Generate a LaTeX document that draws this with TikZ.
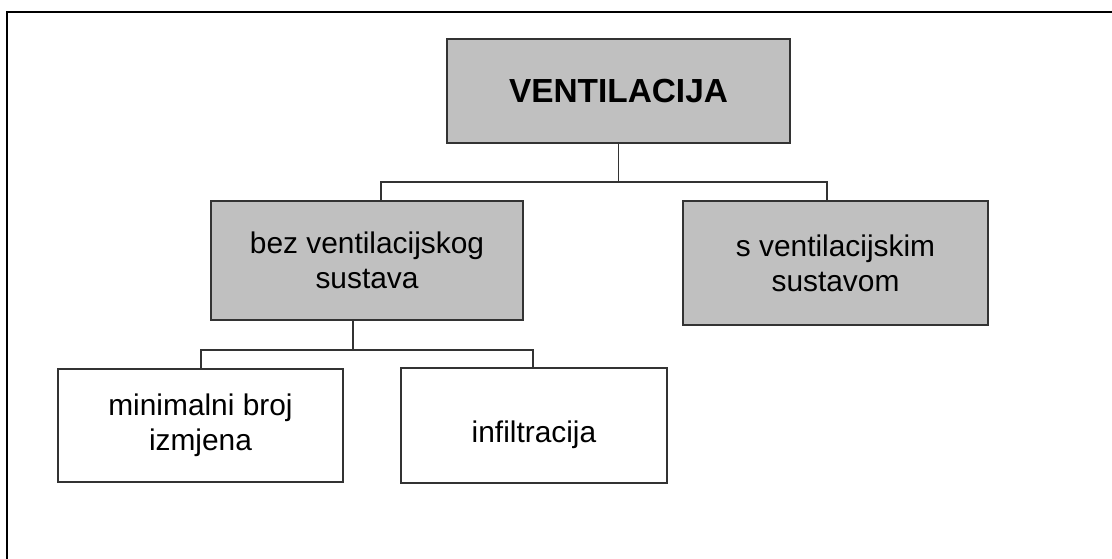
\documentclass[tikz,border=0pt]{standalone}
\usepackage{fontspec}
\setmainfont{Liberation Sans}
\definecolor{boxgrey}{HTML}{C0C0C0}
\definecolor{boxline}{HTML}{333333}

\tikzstyle{box}=[draw=boxline,line width=1.1pt,align=center,inner sep=0pt,font=\fontsize{17}{20}\selectfont]
\tikzstyle{greybox}=[box,fill=boxgrey]
\tikzstyle{whitebox}=[box,fill=white]
\tikzstyle{edge} = [draw=boxline,line width=1.1pt,-]

\begin{document}
\begin{tikzpicture}
		\useasboundingbox (0,0) rectangle (22.24,-11.18);
		\draw [line width=1.4pt] (22.24,-0.24) -- (0.14,-0.24) -- (0.14,-11.18);

		\node [greybox, minimum width=6.86cm, minimum height=2.08cm, font=\fontsize{19}{22}\selectfont\bfseries]
		                  (vent)    at (12.37,-1.82) {VENTILACIJA};
		\node [greybox, minimum width=6.24cm, minimum height=2.38cm]
		                  (bez)     at (7.34,-5.21)  {bez ventilacijskog\\sustava};
		\node [greybox, minimum width=6.10cm, minimum height=2.48cm]
		                  (sa)      at (16.71,-5.26) {s ventilacijskim\\sustavom};
		\node [whitebox, minimum width=5.70cm, minimum height=2.26cm]
		                  (minbroj) at (4.01,-8.51)  {minimalni broj\\izmjena};
		\node [whitebox, minimum width=5.32cm, minimum height=2.30cm, text height=0.81cm, text depth=0.13cm]
		                  (infil)   at (10.68,-8.51) {infiltracija};

		\coordinate (bus1)   at (12.37,-3.64);
		\coordinate (bezin)  at (7.62,-4.02);
		\coordinate (sain)   at (16.54,-4.02);
		\coordinate (bezout) at (7.06,-6.40);
		\coordinate (bus2)   at (7.06,-7.00);
		\coordinate (minin)  at (4.02,-7.38);
		\coordinate (infin)  at (10.66,-7.38);

		\draw [edge] (vent.south) -- (bus1);
		\draw [edge] (bezin) |- (bus1) -| (sain);
		\draw [edge] (bezout) -- (bus2);
		\draw [edge] (minin) |- (bus2) -| (infin);
	\end{tikzpicture}
\end{document}
